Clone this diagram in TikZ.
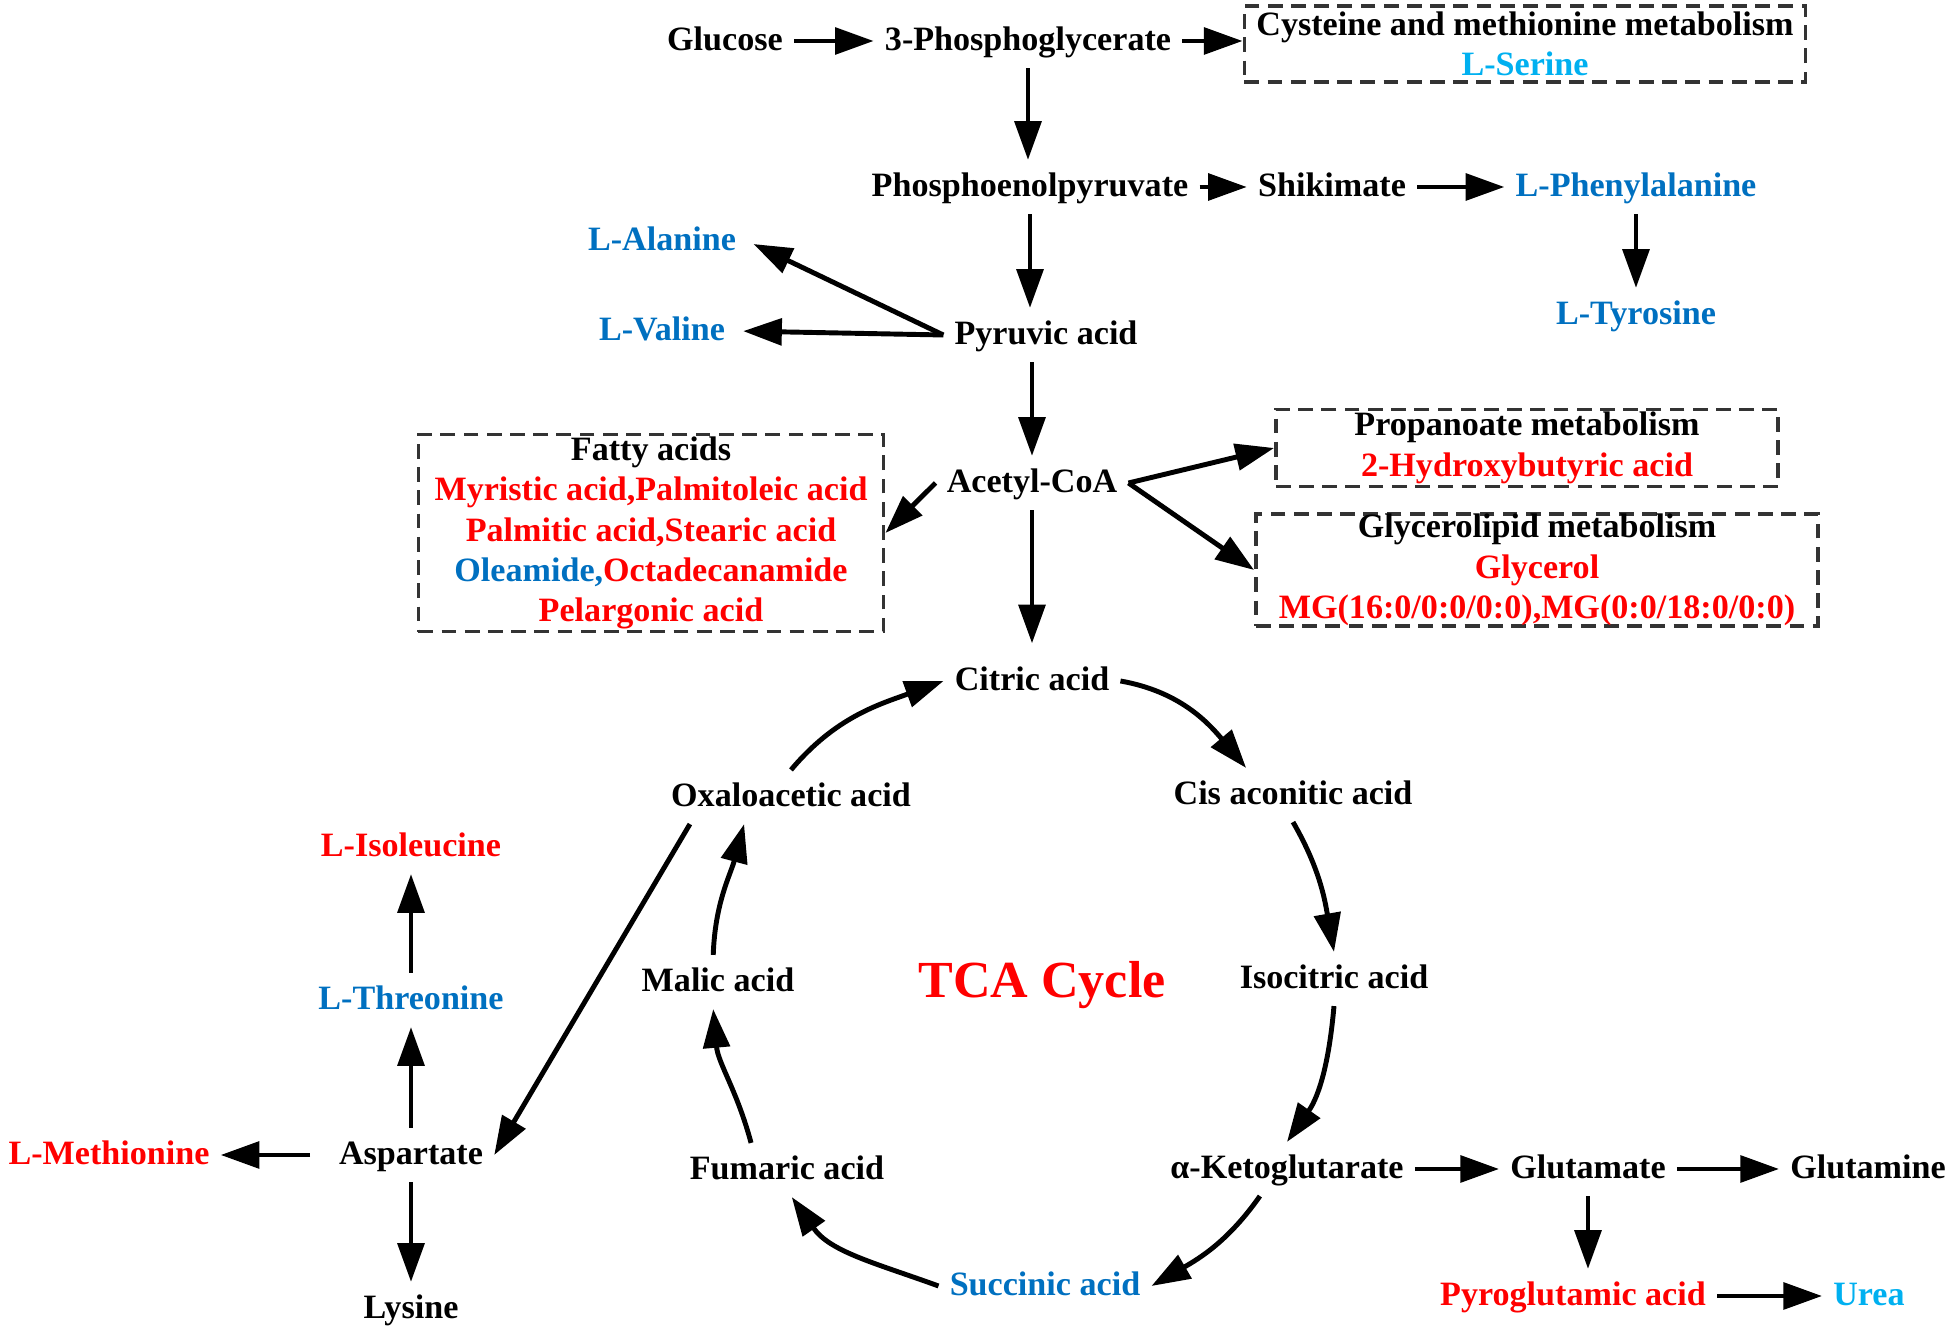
\documentclass[tikz,border=0pt]{standalone}
\usepackage{fontspec}
\setmainfont{Liberation Serif}
\usetikzlibrary{arrows.meta}
\definecolor{metred}{RGB}{255,0,0}
\definecolor{metblue}{RGB}{0,112,192}
\definecolor{metcyan}{RGB}{0,176,240}
\newcommand{\metfont}{\bfseries\fontsize{9.7}{11.5}\selectfont}

\begin{document}
\begin{tikzpicture}[x=0.01cm,y=0.01cm,
    met/.style={font=\metfont,inner xsep=3pt,inner ysep=3pt,text height=7.2pt,text depth=1.8pt},
    redmet/.style={met,text=metred},
    bluemet/.style={met,text=metblue},
    cyanmet/.style={met,text=metcyan},
    pathbox/.style={draw=black!80,line width=1pt,dash pattern=on 4.2pt off 2.4pt,font=\metfont,align=center,inner sep=0pt},
    arr/.style={-{Triangle[length=11pt,width=7.5pt]},line width=1.4pt}]
        \useasboundingbox (0,0) rectangle (1950,-1334);
        \node[met] (glc) at (725,-41) {Glucose};
        \node[met] (pga) at (1028,-41) {3-Phosphoglycerate};
        \node[pathbox,minimum width=5.61cm,minimum height=0.76cm] (cys) at (1525,-44)
            {Cysteine and methionine metabolism\\\textcolor{metcyan}{L-Serine}};
        \node[met] (pep) at (1030,-187) {Phosphoenolpyruvate};
        \node[met] (shk) at (1332,-187) {Shikimate};
        \node[bluemet] (phe) at (1636,-187) {L-Phenylalanine};
        \node[bluemet] (tyr) at (1636,-315) {L-Tyrosine};
        \node[bluemet] (ala) at (662,-241) {L-Alanine};
        \node[bluemet] (val) at (662,-331) {L-Valine};
        \node[met] (pyr) at (1046,-335) {Pyruvic acid};
        \node[met] (acoa) at (1032,-483) {Acetyl-CoA};
        \node[pathbox,minimum width=4.65cm,minimum height=1.97cm] (fat) at (651,-533)
            {Fatty acids\\\textcolor{metred}{Myristic acid,Palmitoleic acid}\\
            \textcolor{metred}{Palmitic acid,Stearic acid}\\
            \textcolor{metblue}{Oleamide,}\textcolor{metred}{Octadecanamide}\\
            \textcolor{metred}{Pelargonic acid}};
        \node[pathbox,minimum width=5.02cm,minimum height=0.77cm] (prop) at (1527,-448)
            {Propanoate metabolism\\\textcolor{metred}{2-Hydroxybutyric acid}};
        \node[pathbox,minimum width=5.62cm,minimum height=1.07cm] (glyc) at (1537,-570)
            {Glycerolipid metabolism\\\textcolor{metred}{Glycerol}\\
            \textcolor{metred}{MG(16:0/0:0/0:0),MG(0:0/18:0/0:0)}};
        \node[met] (cit) at (1032,-681) {Citric acid};
        \node[met] (cis) at (1293,-795) {Cis aconitic acid};
        \node[met] (ict) at (1334,-979) {Isocitric acid};
        \node[met] (akg) at (1287,-1169) {α-Ketoglutarate};
        \node[bluemet] (suc) at (1045,-1286) {Succinic acid};
        \node[met] (fum) at (787,-1170) {Fumaric acid};
        \node[met] (mal) at (718,-982) {Malic acid};
        \node[met] (oxa) at (791,-797) {Oxaloacetic acid};
        \node[font=\bfseries\fontsize{14.8}{17}\selectfont,text=metred] (tca) at (1042,-985) {TCA Cycle};
        \node[redmet] (ile) at (411,-847) {L-Isoleucine};
        \node[bluemet] (thr) at (411,-1000) {L-Threonine};
        \node[met] (asp) at (411,-1155) {Aspartate};
        \node[redmet] (metn) at (109,-1155) {L-Methionine};
        \node[met] (lys) at (411,-1309) {Lysine};
        \node[met] (glu) at (1588,-1169) {Glutamate};
        \node[met] (gln) at (1868,-1169) {Glutamine};
        \node[redmet] (pgl) at (1573,-1296) {Pyroglutamic acid};
        \node[cyanmet] (urea) at (1869,-1296) {Urea};

        \draw[arr] (glc) -- (pga);
        \draw[arr] (pga) -- (pga -| cys.west);
        \draw[arr] (pga) -- (pga |- pep.north);
        \draw[arr] (pep) -- (shk);
        \draw[arr] (shk) -- (phe);
        \draw[arr] (phe) -- (tyr);
        \draw[arr] (pep) -- (pep |- pyr.north);
        \draw[arr,shorten >=2pt] (pyr.west) -- (ala.east);
        \draw[arr,shorten >=2pt] (pyr.west) -- (val.east);
        \draw[arr] (pyr.south -| acoa) -- (acoa);
        \draw[arr] (acoa.west) -- (fat.east);
        \draw[arr] (acoa.east) -- (prop.west);
        \draw[arr] (acoa.east) -- (glyc.west);
        \draw[arr,shorten >=3pt] (acoa) -- (cit);
        \draw[arr] (cit.east) to[out=-10,in=130] (cis.150);
        \draw[arr] (cis.south) to[out=-60,in=100] (ict.north);
        \draw[arr] (ict.south) to[out=-95,in=55] (akg.north);
        \draw[arr] (akg.-135) to[out=-125,in=30] (suc.east);
        \draw[arr] (suc.west) to[out=160,in=-55] (fum.-80);
        \draw[arr] (fum.143) to[out=105,in=-85] (mal.-100);
        \draw[arr] (mal.100) to[out=88,in=-105] (oxa.-150);
        \draw[arr] (oxa.north) to[out=50,in=200] (cit.west);
        \draw[arr] (oxa.-165) -- (asp.east);
        \draw[arr] (asp) -- (thr);
        \draw[arr] (thr) -- (ile);
        \draw[arr,shorten <=5pt] (asp) -- (metn);
        \draw[arr] (asp) -- (lys);
        \draw[arr] (akg) -- (glu);
        \draw[arr] (glu) -- (gln);
        \draw[arr] (glu.south) -- (glu.south |- pgl.north);
        \draw[arr] (pgl) -- (urea);
    \end{tikzpicture}
\end{document}
